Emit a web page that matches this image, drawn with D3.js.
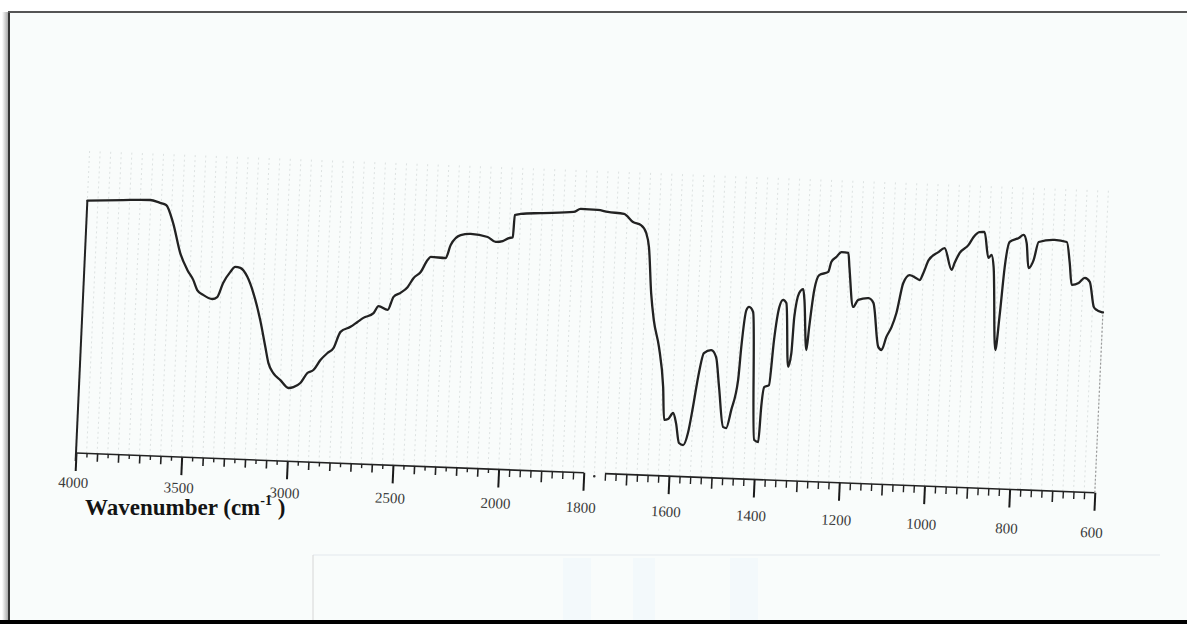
<!DOCTYPE html>
<html>
<head>
<meta charset="utf-8">
<script src="https://cdn.jsdelivr.net/npm/d3@7"></script>
<style>
  html, body { margin: 0; padding: 0; background: #ffffff; }
  svg { display: block; }
</style>
</head>
<body>
<svg id="chart" width="1187" height="624"></svg>
<script>
// IR spectrum trace: wavenumber (cm-1) and transmittance (%T)
const wavenumbers = [
  4000, 3831, 3704, 3656, 3627, 3590, 3550, 3513, 3483, 3462, 3433, 3389, 3366, 3341, 3310, 3287,
  3263, 3228, 3196, 3158, 3128, 3110, 3085, 3050, 3010, 2987, 2955, 2924, 2896, 2865, 2833, 2806,
  2776, 2730, 2698, 2671, 2624, 2602, 2558, 2533, 2501, 2469, 2442, 2410, 2380, 2366, 2295, 2274,
  2229, 2182, 2101, 2062, 2029, 2001, 1991, 1989, 1975, 1928, 1851, 1835, 1795, 1771, 1733, 1711,
  1692, 1679, 1671, 1661, 1652, 1637, 1623, 1617, 1608, 1597, 1589, 1580, 1570, 1560, 1551, 1542,
  1531, 1514, 1502, 1492, 1478, 1471, 1461, 1448, 1444, 1436, 1430, 1420, 1404, 1394, 1391, 1386,
  1375, 1368, 1359, 1351, 1343, 1332, 1326, 1323, 1314, 1305, 1301, 1291, 1287, 1279, 1269, 1248,
  1242, 1231, 1219, 1203, 1199, 1186, 1175, 1151, 1139, 1123, 1115, 1105, 1094, 1084, 1071, 1057,
  1045, 1033, 1025, 1014, 992, 978, 959, 953, 942, 922, 911, 898, 886, 874, 867, 861,
  848, 842, 835, 826, 805, 794, 786, 779, 768, 758, 721, 692, 683, 676, 660, 646,
  634, 622, 615, 603, 600
];
const transmittance = [
  93.5, 94.2, 94.6, 93.7, 93.0, 86.4, 75.4, 69.3, 65.7, 62.0, 60.3, 58.9, 59.7, 65.0, 69.1, 71.1,
  70.8, 67.6, 61.7, 51.8, 41.9, 36.0, 32.4, 29.9, 27.1, 27.5, 29.1, 32.9, 34.1, 37.9, 40.6, 42.5,
  48.6, 50.6, 52.5, 54.1, 56.0, 58.7, 57.4, 62.3, 63.9, 66.1, 69.6, 71.9, 76.4, 77.6, 77.4, 82.3,
  86.1, 86.7, 85.8, 84.1, 84.5, 85.7, 86.1, 94.3, 94.8, 95.4, 96.3, 97.5, 97.4, 96.8, 96.3, 93.4,
  92.4, 89.6, 84.4, 67.4, 57.5, 47.6, 32.9, 20.7, 21.1, 23.4, 19.7, 12.4, 11.7, 16.2, 25.9, 37.1,
  46.0, 47.2, 44.7, 33.7, 18.9, 18.6, 25.3, 36.5, 48.8, 62.5, 63.7, 61.9, 14.6, 13.9, 26.9, 34.3,
  35.1, 51.9, 64.1, 66.8, 65.7, 42.1, 47.3, 60.6, 69.6, 71.1, 67.1, 48.6, 57.1, 70.9, 76.5, 77.8,
  81.5, 83.4, 85.3, 85.1, 79.9, 65.2, 67.9, 68.7, 67.0, 50.8, 49.7, 54.6, 58.3, 63.6, 74.8, 77.8,
  77.1, 76.1, 78.8, 83.6, 86.7, 88.3, 80.3, 82.9, 86.7, 89.8, 92.8, 94.7, 94.8, 85.3, 86.4, 82.0,
  51.3, 63.6, 82.1, 91.5, 93.1, 94.3, 91.3, 82.1, 85.1, 91.9, 92.9, 92.3, 84.6, 76.5, 77.3, 79.3,
  77.9, 68.7, 67.6, 66.9, 66.8
];

// Axis tick labels (scale changes at 2000 cm-1)
const labelTicks = [4000, 3500, 3000, 2500, 2000, 1800, 1600, 1400, 1200, 1000, 800, 600];
const scaleBreaks = [4000, 2000, 600];
const axisTitle = "Wavenumber (cm";
const axisTitleSup = "-1";

const svg = d3.select("#chart");

// ---- paper sheet ----
const defs = svg.append("defs");
const shade = defs.append("linearGradient").attr("id", "edgeShade").attr("x1", 0).attr("x2", 1);
shade.append("stop").attr("offset", "0%").attr("stop-color", "#ffffff");
shade.append("stop").attr("offset", "100%").attr("stop-color", "#a8a8a8");

svg.append("rect").attr("x", 0).attr("y", 0).attr("width", 1187).attr("height", 624).attr("fill", "#ffffff");
svg.append("rect").attr("x", 9).attr("y", 12).attr("width", 1178).attr("height", 608).attr("fill", "#f9fcfb");
svg.append("rect").attr("x", 2).attr("y", 12).attr("width", 6).attr("height", 608).attr("fill", "url(#edgeShade)");
svg.append("line").attr("x1", 9).attr("x2", 9).attr("y1", 11).attr("y2", 620)
  .attr("stroke", "#333").attr("stroke-width", 2);
svg.append("line").attr("x1", 8).attr("x2", 1187).attr("y1", 12).attr("y2", 12)
  .attr("stroke", "#555").attr("stroke-width", 2);
svg.append("rect").attr("x", 0).attr("y", 620).attr("width", 1187).attr("height", 4).attr("fill", "#000");

// faint caption box under the chart
svg.append("line").attr("x1", 313).attr("x2", 1160).attr("y1", 555).attr("y2", 555)
  .attr("stroke", "#e3e8ee").attr("stroke-width", 1.2);
svg.append("line").attr("x1", 313).attr("x2", 313).attr("y1", 555).attr("y2", 620)
  .attr("stroke", "#d6d6d6").attr("stroke-width", 1);
[[563, 28], [633, 22], [730, 28]].forEach(([bx, bw]) => {
  svg.append("rect").attr("x", bx).attr("y", 558).attr("width", bw).attr("height", 62)
    .attr("fill", "#e8f3fb").attr("opacity", 0.35);
});

// ---- scales ----
const x = d3.scaleLinear().domain(scaleBreaks).range([0, 422.6, 1018.8]);
const y = d3.scaleLinear().domain([0, 100]).range([0, -270]);

// plot group, slightly skewed like the recorder sheet
const g = svg.append("g").attr("transform", "matrix(1,0.039,-0.045,1,76,453)");

// chart paper grid
const gridVals = d3.range(4000, 2000, -50).concat(d3.range(2000, 599, -25));
g.append("g").selectAll("line").data(gridVals).join("line")
  .attr("x1", d => x(d)).attr("x2", d => x(d))
  .attr("y1", y(0)).attr("y2", y(112))
  .attr("stroke", "#8f9a9a").attr("stroke-width", 0.8)
  .attr("stroke-dasharray", "2,3").attr("opacity", 0.32);

// ---- axis ----
const tickFont = "'Liberation Serif', 'Times New Roman', serif";
const midTicks = d3.range(3900, 2000, -100).filter(d => d % 500 !== 0)
  .concat(d3.range(1900, 600, -100).filter(d => d % 200 !== 0));
const smallTicks = d3.range(3950, 2000, -100)
  .concat(d3.range(1975, 600, -25).filter(d => d % 100 !== 0 && d !== 1775));

const axisG = g.append("g");
axisG.append("g")
  .call(d3.axisBottom(x).tickValues(smallTicks).tickSize(4).tickFormat(""))
  .call(a => a.select(".domain").remove())
  .call(a => a.selectAll(".tick line").attr("stroke", "#222").attr("stroke-width", 1.4))
  .call(a => a.selectAll(".tick line").filter(d => d < 2000).attr("y2", 7));
axisG.append("g")
  .call(d3.axisBottom(x).tickValues(midTicks).tickSize(8).tickFormat(""))
  .call(a => a.select(".domain").remove())
  .call(a => a.selectAll(".tick line").attr("stroke", "#222").attr("stroke-width", 1.6))
  .call(a => a.selectAll(".tick line").filter(d => d < 2000).attr("y2", 11));
axisG.append("g")
  .call(d3.axisBottom(x).tickValues(labelTicks).tickSize(18).tickPadding(8).tickFormat(d3.format("d")))
  .call(a => a.select(".domain").remove())
  .call(a => a.selectAll(".tick line").attr("stroke", "#1a1a1a").attr("stroke-width", 2))
  .call(a => a.selectAll(".tick text")
    .attr("font-family", tickFont).attr("font-size", 15).attr("fill", "#3a3a3a")
    .attr("dx", -2)
    .attr("y", d => 24 + 0.01 * x(d)));

// baseline, broken just below 1800 cm-1
axisG.append("line").attr("x1", x(4000)).attr("x2", x(1800)).attr("y1", 0).attr("y2", 0)
  .attr("stroke", "#222").attr("stroke-width", 1.6);
axisG.append("line").attr("x1", x(1750)).attr("x2", x(600)).attr("y1", 0).attr("y2", 0)
  .attr("stroke", "#222").attr("stroke-width", 1.6);
axisG.append("circle").attr("cx", x(1775)).attr("cy", 3).attr("r", 1.3).attr("fill", "#333");

// sheet edges
g.append("line").attr("x1", x(4000)).attr("x2", x(4000))
  .attr("y1", y(0) + 8).attr("y2", y(transmittance[0]))
  .attr("stroke", "#222").attr("stroke-width", 2);
g.append("line").attr("x1", x(600)).attr("x2", x(600))
  .attr("y1", y(0)).attr("y2", y(transmittance[transmittance.length - 1]))
  .attr("stroke", "#9a9a9a").attr("stroke-width", 1.2).attr("stroke-dasharray", "2,2");

// ---- spectrum trace ----
const points = wavenumbers.map((w, i) => [w, transmittance[i]]);
const line = d3.line().x(d => x(d[0])).y(d => y(d[1])).curve(d3.curveMonotoneX);
g.append("path").datum(points)
  .attr("d", line)
  .attr("fill", "none")
  .attr("stroke", "#222")
  .attr("stroke-width", 2.3)
  .attr("stroke-linejoin", "round")
  .attr("stroke-linecap", "round");

// ---- axis title ----
const title = svg.append("text")
  .attr("x", 85).attr("y", 515)
  .attr("font-family", tickFont).attr("font-weight", "bold")
  .attr("font-size", 23).attr("fill", "#141414");
title.append("tspan").text(axisTitle);
title.append("tspan").attr("font-size", 14).attr("dy", -10).text(axisTitleSup);
title.append("tspan").attr("dy", 10).text(" )");
</script>
</body>
</html>
